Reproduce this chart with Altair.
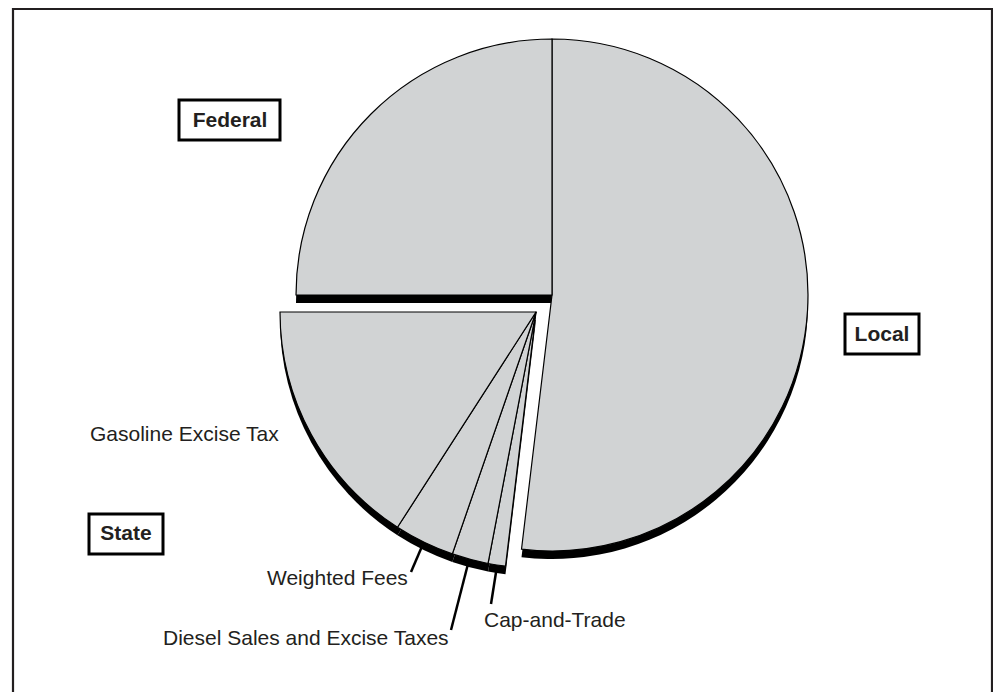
import math
import altair as alt
import pandas as pd

# ---- chart values ----
categories = ["Local", "Cap-and-Trade", "Diesel Sales and Excise Taxes",
              "Weighted Fees", "Gasoline Excise Tax", "Federal"]
groups = ["Local", "State", "State", "State", "State", "Federal"]
shares = [51.9, 1.1, 2.3, 3.8, 15.9, 25.0]   # percent of total

group_names = ["Federal", "Local", "State"]

# ---- layout (page pixel units) ----
PIE_CX, PIE_CY = 552, 295
EXPLODE = {"State": (-16, 17)}
RADIUS = 256
SHADOW = 8
FILL = "#d1d3d4"
INK = "#231f20"
FONT = "Liberation Sans"

start, end, acc = [], [], 0.0
for s in shares:
    start.append(acc)
    acc += s
    end.append(acc)

pie = pd.DataFrame({
    "category": categories,
    "group": groups,
    "share": shares,
    "start": start,
    "end": end,
})
pie["cx"] = [PIE_CX + EXPLODE.get(g, (0, 0))[0] for g in groups]
pie["cy"] = [PIE_CY + EXPLODE.get(g, (0, 0))[1] for g in groups]

# group label boxes
box_x = [179, 845, 89]
box_x2 = [280, 919, 163]
box_y = [100, 314, 514]
box_y2 = [140, 354, 554]
box_tx = [230, 882, 126]
box_ty = [127, 341, 540]
boxes = pd.DataFrame({"label": group_names, "x": box_x, "x2": box_x2,
                      "y": box_y, "y2": box_y2, "tx": box_tx, "ty": box_ty})

# slice labels
lab_names = ["Gasoline Excise Tax", "Weighted Fees",
             "Diesel Sales and Excise Taxes", "Cap-and-Trade"]
lab_x = [90, 267, 163, 484]
lab_y = [441, 585, 645, 627]
labels = pd.DataFrame({"label": lab_names, "x": lab_x, "y": lab_y})

# leader lines
lead_x = [411, 451, 491]
lead_y = [572, 630, 604]
lead_x2 = [423, 469, 497]
lead_y2 = [544, 560, 566]
leaders = pd.DataFrame({"x": lead_x, "y": lead_y, "x2": lead_x2, "y2": lead_y2})

frame = pd.DataFrame({"x": [13], "x2": [992], "y": [9], "y2": [760]})

W, H = 985, 684
xs = alt.Scale(domain=[8, 8 + W], range=[0, W])
ys = alt.Scale(domain=[8, 8 + H], range=[0, H])
ts = alt.Scale(domain=[0, 100], range=[0, 2 * math.pi])


def X(f):
    return alt.X(f, scale=xs, axis=None)


def Y(f):
    return alt.Y(f, scale=ys, axis=None)


frame_rect = alt.Chart(frame).mark_rect(
    fill="white", stroke="#231f20", strokeWidth=2.2).encode(
    x=X("x:Q"), x2="x2:Q", y=Y("y:Q"), y2="y2:Q")

pie_shadow = alt.Chart(pie).mark_arc(
    outerRadius=RADIUS, color="black", yOffset=SHADOW).encode(
    x=X("cx:Q"), y=Y("cy:Q"),
    theta=alt.Theta("start:Q", scale=ts), theta2="end:Q")

pie_fill = alt.Chart(pie).mark_arc(
    outerRadius=RADIUS, fill=FILL, stroke="black", strokeWidth=1.2,
    strokeJoin="miter").encode(
    x=X("cx:Q"), y=Y("cy:Q"),
    theta=alt.Theta("start:Q", scale=ts), theta2="end:Q",
    tooltip=["category:N", "group:N", "share:Q"])

box_rect = alt.Chart(boxes).mark_rect(
    fill="white", stroke="black", strokeWidth=3).encode(
    x=X("x:Q"), x2="x2:Q", y=Y("y:Q"), y2="y2:Q")

box_text = alt.Chart(boxes).mark_text(
    font=FONT, fontSize=21, fontWeight="bold", color=INK,
    align="center", baseline="alphabetic").encode(
    x=X("tx:Q"), y=Y("ty:Q"), text="label:N")

lab_text = alt.Chart(labels).mark_text(
    font=FONT, fontSize=21, color=INK,
    align="left", baseline="alphabetic").encode(
    x=X("x:Q"), y=Y("y:Q"), text="label:N")

lead_rule = alt.Chart(leaders).mark_rule(color="black", strokeWidth=2.5).encode(
    x=X("x:Q"), y=Y("y:Q"), x2="x2:Q", y2="y2:Q")

chart = alt.layer(
    frame_rect, pie_shadow, pie_fill,
    box_rect, box_text, lab_text, lead_rule
).properties(
    width=W, height=H, padding=0,
    autosize=alt.AutoSizeParams(type="none"),
    background="white",
).configure_view(stroke=None)

chart.save("out.html", embed_options={"renderer": "svg", "actions": False})
